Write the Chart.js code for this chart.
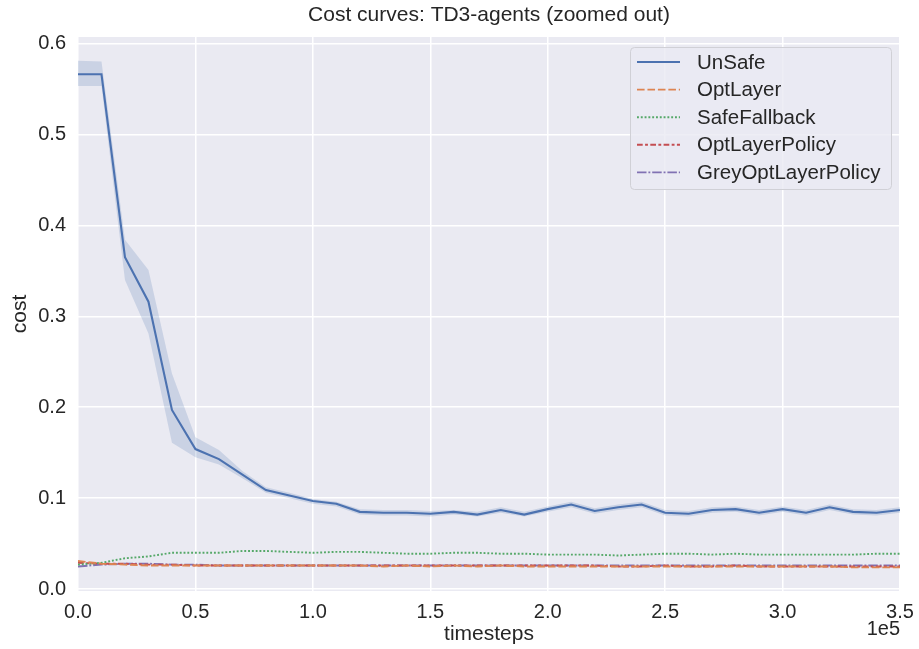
<!DOCTYPE html>
<html>
<head>
<meta charset="utf-8">
<script src="https://cdn.jsdelivr.net/npm/chart.js@4"></script>
<style>
  html, body { margin: 0; padding: 0; background: #fff; }
  #wrap { width: 919px; height: 649px; }
</style>
</head>
<body>
<div id="wrap"><canvas id="costChart" width="919" height="649"></canvas></div>
<script>
// timesteps, one point every 1e4
const steps = [0, 10000, 20000, 30000, 40000, 50000, 60000, 70000, 80000, 90000,
  100000, 110000, 120000, 130000, 140000, 150000, 160000, 170000, 180000, 190000,
  200000, 210000, 220000, 230000, 240000, 250000, 260000, 270000, 280000, 290000,
  300000, 310000, 320000, 330000, 340000, 350000];

const unsafe = [0.566, 0.566, 0.365, 0.316, 0.197, 0.154, 0.143, 0.126, 0.109, 0.103,
  0.097, 0.094, 0.085, 0.084, 0.084, 0.083, 0.085, 0.082, 0.087, 0.082,
  0.088, 0.093, 0.086, 0.090, 0.093, 0.084, 0.083, 0.087, 0.088, 0.084,
  0.088, 0.084, 0.090, 0.085, 0.084, 0.087];
const unsafeLo = [0.553, 0.553, 0.340, 0.281, 0.161, 0.145, 0.137, 0.122, 0.106, 0.100,
  0.094, 0.091, 0.082, 0.081, 0.081, 0.080, 0.082, 0.080, 0.084, 0.080,
  0.085, 0.090, 0.083, 0.087, 0.090, 0.081, 0.080, 0.084, 0.085, 0.081,
  0.085, 0.081, 0.087, 0.082, 0.081, 0.084];
const unsafeHi = [0.581, 0.580, 0.384, 0.351, 0.237, 0.167, 0.153, 0.130, 0.112, 0.106,
  0.099, 0.096, 0.088, 0.087, 0.087, 0.086, 0.087, 0.085, 0.090, 0.085,
  0.091, 0.096, 0.089, 0.093, 0.096, 0.087, 0.086, 0.090, 0.091, 0.087,
  0.091, 0.087, 0.093, 0.088, 0.087, 0.090];

const optLayer = [0.031, 0.028, 0.027, 0.026, 0.026, 0.026, 0.026, 0.026, 0.026, 0.026,
  0.026, 0.026, 0.026, 0.025, 0.026, 0.025, 0.026, 0.025, 0.026, 0.025,
  0.025, 0.025, 0.025, 0.025, 0.025, 0.025, 0.025, 0.025, 0.025, 0.025,
  0.025, 0.025, 0.025, 0.024, 0.024, 0.024];
const safeFallback = [0.027, 0.029, 0.034, 0.036, 0.040, 0.040, 0.040, 0.042, 0.042, 0.041,
  0.040, 0.041, 0.041, 0.040, 0.039, 0.039, 0.040, 0.040, 0.039, 0.039,
  0.038, 0.038, 0.038, 0.037, 0.038, 0.039, 0.039, 0.038, 0.039, 0.038,
  0.038, 0.038, 0.038, 0.038, 0.039, 0.039];
const optLayerPolicy = [0.029, 0.028, 0.028, 0.027, 0.027, 0.026, 0.026, 0.026, 0.026, 0.026,
  0.026, 0.026, 0.026, 0.026, 0.026, 0.026, 0.026, 0.026, 0.026, 0.026,
  0.026, 0.026, 0.026, 0.025, 0.025, 0.026, 0.025, 0.025, 0.026, 0.025,
  0.025, 0.025, 0.025, 0.025, 0.025, 0.025];
const greyOptLayerPolicy = [0.025, 0.027, 0.028, 0.028, 0.027, 0.027, 0.026, 0.026, 0.026, 0.026,
  0.026, 0.026, 0.026, 0.026, 0.026, 0.026, 0.026, 0.026, 0.026, 0.026,
  0.026, 0.026, 0.026, 0.026, 0.026, 0.026, 0.026, 0.026, 0.026, 0.026,
  0.026, 0.026, 0.026, 0.026, 0.026, 0.026];

const xTicks = ['0.0', '0.5', '1.0', '1.5', '2.0', '2.5', '3.0', '3.5'];
const yTicks = ['0.0', '0.1', '0.2', '0.3', '0.4', '0.5', '0.6'];

const FONT = '"Liberation Sans", Arial, sans-serif';
const lw = 1.9;

const pts = arr => arr.map((v, i) => ({ x: steps[i], y: v }));

function line(label, values, color, dash, width) {
  return {
    label, data: pts(values), borderColor: color, backgroundColor: color,
    borderWidth: width || lw, borderDash: dash, pointRadius: 0, tension: 0, fill: false
  };
}

const series = [
  line('UnSafe', unsafe, '#4C72B0', [], 2.1),
  line('OptLayer', optLayer, '#DD8452', [4 * lw, 1.5 * lw]),
  line('SafeFallback', safeFallback, '#55A868', [1 * lw, 1 * lw]),
  line('OptLayerPolicy', optLayerPolicy, '#C44E52', [3 * lw, 1.25 * lw, 1.5 * lw, 1.25 * lw]),
  line('GreyOptLayerPolicy', greyOptLayerPolicy, '#8172B3', [5 * lw, 1 * lw, 1 * lw, 1 * lw])
];

const bandLo = { label: '_lo', data: pts(unsafeLo), borderWidth: 0, pointRadius: 0, fill: false, borderColor: 'rgba(0,0,0,0)' };
const bandHi = { label: '_hi', data: pts(unsafeHi), borderWidth: 0, pointRadius: 0, fill: '-1',
  borderColor: 'rgba(0,0,0,0)', backgroundColor: 'rgba(76,114,176,0.2)' };

// background, titles and the legend box
const decor = {
  id: 'decor',
  beforeDraw(chart) {
    const { ctx, chartArea: a } = chart;
    ctx.save();
    ctx.fillStyle = '#EAEAF2';
    ctx.fillRect(a.left, a.top, a.right - a.left, a.bottom - a.top);
    ctx.restore();
  },
  afterDraw(chart) {
    const { ctx, chartArea: a } = chart;
    ctx.save();
    ctx.fillStyle = '#262626';
    ctx.textAlign = 'center';
    ctx.textBaseline = 'middle';
    ctx.font = '21px ' + FONT;
    ctx.fillText('Cost curves: TD3-agents (zoomed out)', (a.left + a.right) / 2, 15);
    ctx.font = '21px ' + FONT;
    ctx.fillText('timesteps', (a.left + a.right) / 2, 634);
    ctx.textAlign = 'right';
    ctx.font = '20px ' + FONT;
    ctx.fillText('1e5', a.right, 629);
    ctx.save();
    ctx.translate(20, (a.top + a.bottom) / 2);
    ctx.rotate(-Math.PI / 2);
    ctx.textAlign = 'center';
    ctx.font = '21px ' + FONT;
    ctx.fillText('cost', 0, 0);
    ctx.restore();

    // legend
    const bx = 630, by = 47, bw = 261, bh = 142;
    ctx.beginPath();
    ctx.roundRect(bx + 0.5, by + 0.5, bw, bh, 4);
    ctx.fillStyle = 'rgba(234,234,242,0.8)';
    ctx.fill();
    ctx.strokeStyle = '#D0D0D6';
    ctx.lineWidth = 1;
    ctx.stroke();
    ctx.textAlign = 'left';
    ctx.font = '20.5px ' + FONT;
    series.forEach((s, i) => {
      const y = 62 + i * 27.6;
      ctx.beginPath();
      ctx.setLineDash(s.borderDash);
      ctx.strokeStyle = s.borderColor;
      ctx.lineWidth = s.borderWidth;
      ctx.moveTo(637, y);
      ctx.lineTo(680, y);
      ctx.stroke();
      ctx.setLineDash([]);
      ctx.fillStyle = '#262626';
      ctx.fillText(s.label, 697, y + 1);
    });
    ctx.restore();
  }
};

new Chart(document.getElementById('costChart'), {
  type: 'line',
  data: { datasets: [...series, bandLo, bandHi] },
  options: {
    responsive: false,
    animation: false,
    layout: { padding: { top: 37, right: 19, left: 0, bottom: 0 } },
    plugins: {
      legend: { display: false },
      tooltip: { enabled: false },
      filler: { propagate: false }
    },
    scales: {
      x: {
        type: 'linear', min: 0, max: 350000,
        afterFit: s => { s.height = 58; s.paddingLeft = 0; s.paddingRight = 0; },
        grid: { color: '#FFFFFF', lineWidth: 1.5, drawTicks: false },
        border: { display: false },
        ticks: {
          stepSize: 50000, includeBounds: false, padding: 9, maxRotation: 0,
          color: '#262626', font: { family: FONT, size: 20 },
          callback: v => xTicks[Math.round(v / 50000)]
        }
      },
      y: {
        type: 'linear', min: -0.002, max: 0.607,
        afterFit: s => { s.width = 78; s.paddingTop = 0; s.paddingBottom = 0; },
        grid: { color: '#FFFFFF', lineWidth: 1.5, drawTicks: false },
        border: { display: false },
        ticks: {
          stepSize: 0.1, includeBounds: false, padding: 12,
          color: '#262626', font: { family: FONT, size: 20 },
          callback: v => yTicks[Math.round(v * 10)]
        }
      }
    }
  },
  plugins: [decor]
});
</script>
</body>
</html>
